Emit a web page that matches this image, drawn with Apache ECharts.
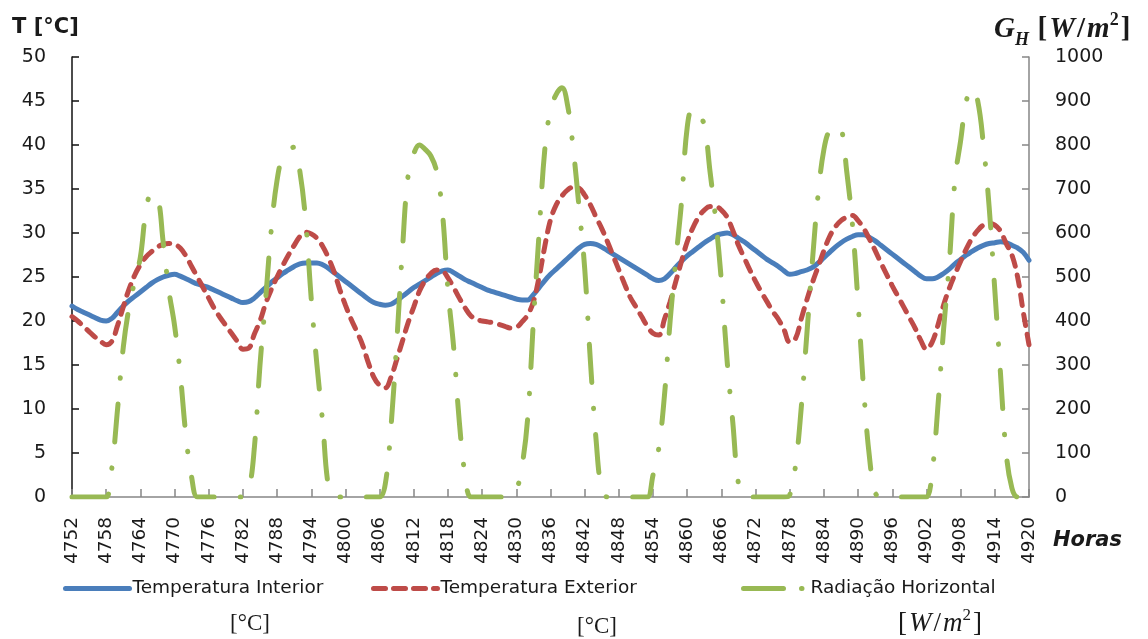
<!DOCTYPE html>
<html>
<head>
<meta charset="utf-8">
<script src="https://cdn.jsdelivr.net/npm/echarts@6/dist/echarts.min.js"></script>
<style>
  html, body { margin: 0; padding: 0; background: #fff; }
  #chart { width: 1148px; height: 639px; }
</style>
</head>
<body>
<div id="chart"></div>
<script>
// Hourly record, hours 4752 .. 4920
const startHour = 4752;
const endHour = 4920;

// Temperatura Interior [°C]
const tInterior = [
  21.7, 21.3, 21.0, 20.7, 20.4, 20.1, 20.0, 20.3, 21.0, 21.7, 22.3, 22.8, 23.3, 23.8, 24.3, 24.7, 25.0, 25.2, 25.3, 25.1, 24.8, 24.5, 24.2, 24.0,
  23.8, 23.5, 23.2, 22.9, 22.6, 22.3, 22.1, 22.2, 22.6, 23.2, 23.8, 24.4, 24.9, 25.4, 25.8, 26.2, 26.5, 26.6, 26.6, 26.6, 26.4, 26.0, 25.5, 25.0,
  24.5, 24.0, 23.5, 23.0, 22.5, 22.1, 21.9, 21.8, 21.9, 22.3, 22.8, 23.3, 23.8, 24.2, 24.6, 25.0, 25.4, 25.7, 25.8, 25.5, 25.1, 24.7, 24.4, 24.1,
  23.8, 23.5, 23.3, 23.1, 22.9, 22.7, 22.5, 22.4, 22.4, 23.0, 23.8, 24.6, 25.3, 25.9, 26.5, 27.1, 27.7, 28.3, 28.7, 28.8, 28.7, 28.4, 28.0, 27.6,
  27.2, 26.8, 26.4, 26.0, 25.6, 25.2, 24.8, 24.6, 24.8, 25.4, 26.1, 26.8, 27.4, 27.9, 28.4, 28.9, 29.3, 29.7, 29.9, 30.0, 29.8, 29.4, 29.0, 28.5,
  28.0, 27.5, 27.0, 26.6, 26.2, 25.7, 25.3, 25.4, 25.6, 25.8, 26.1, 26.6, 27.2, 27.8, 28.4, 28.9, 29.3, 29.6, 29.8, 29.8, 29.5, 29.1, 28.6, 28.1,
  27.6, 27.1, 26.6, 26.1, 25.6, 25.1, 24.8, 24.8, 25.0, 25.4, 25.9, 26.5, 27.0, 27.5, 27.9, 28.3, 28.6, 28.8, 28.9, 29.0, 28.9, 28.6, 28.3, 27.8,
  26.9
];

// Temperatura Exterior [°C]
const tExterior = [
  20.5, 20.0, 19.4, 18.8, 18.2, 17.7, 17.3, 17.7, 19.5, 21.6, 23.6, 25.2, 26.4, 27.3, 27.9, 28.4, 28.7, 28.8, 28.7, 28.3, 27.4, 26.2, 25.0, 23.8,
  22.6, 21.4, 20.4, 19.5, 18.6, 17.7, 16.8, 16.9, 18.5, 20.0, 22.0, 23.6, 25.0, 26.3, 27.5, 28.6, 29.6, 30.1, 29.9, 29.4, 28.5, 27.2, 25.6, 23.6,
  21.8, 20.2, 18.8, 17.3, 15.3, 13.6, 12.7, 12.4, 13.6, 15.6, 17.7, 19.8, 21.6, 23.4, 24.6, 25.4, 25.8, 25.7, 24.9, 23.8, 22.6, 21.5, 20.6, 20.2,
  20.0, 19.9, 19.8, 19.6, 19.4, 19.2, 19.3, 19.9, 20.7, 22.2, 25.0, 28.5, 31.5, 33.2, 34.2, 34.9, 35.2, 35.1, 34.3, 33.2, 31.8, 30.5, 29.0, 27.4,
  25.8, 24.2, 22.7, 21.6, 20.5, 19.4, 18.6, 18.4, 20.2, 22.2, 24.5, 26.8, 29.0, 30.6, 31.8, 32.6, 33.0, 33.0, 32.6, 31.8, 30.3, 28.6, 27.2, 25.8,
  24.5, 23.3, 22.2, 21.1, 20.2, 19.0, 17.6, 18.0, 20.2, 22.4, 24.4, 26.2, 28.0, 29.6, 30.7, 31.4, 31.8, 32.0, 31.4, 30.5, 29.3, 28.0, 26.6, 25.3,
  24.0, 22.8, 21.6, 20.4, 19.2, 17.8, 16.8, 17.6, 19.5, 21.8, 23.7, 25.3, 26.8, 28.2, 29.4, 30.3, 30.9, 31.1, 30.9, 30.2, 28.8, 27.5, 25.0, 21.0,
  17.3
];

// Radiação Horizontal [W/m2]
const gHorizontal = [
  0, 0, 0, 0, 0, 0, 0, 66, 200, 340, 430, 490, 545, 650, 690, 685, 580, 470, 390, 280, 140, 45, 0, 0,
  0, 0, 0, 0, 0, 0, 0, 15, 110, 300, 450, 610, 720, 775, 790, 795, 740, 630, 450, 300, 170, 25, 0, 0,
  0, 0, 0, 0, 0, 0, 0, 30, 160, 350, 560, 730, 780, 800, 790, 775, 740, 650, 470, 340, 170, 50, 0, 0,
  0, 0, 0, 0, 0, 0, 15, 70, 180, 400, 600, 790, 880, 915, 930, 890, 790, 660, 520, 310, 130, 15, 0, 0,
  0, 0, 0, 0, 0, 0, 50, 110, 230, 400, 540, 670, 840, 885, 870, 845, 740, 630, 490, 310, 170, 30, 0, 0,
  0, 0, 0, 0, 0, 0, 5, 70, 200, 370, 540, 690, 790, 835, 845, 840, 740, 620, 440, 240, 90, 10, 0, 0,
  0, 0, 0, 0, 0, 0, 0, 57, 205, 380, 530, 720, 810, 900, 930, 900, 800, 660, 470, 280, 100, 20, 0, 0,
  0
];

const seriesNames = ['Temperatura Interior', 'Temperatura Exterior', 'Radiação Horizontal'];
const colors = ['#4A7EBB', '#BE4B48', '#98B954'];

const hours = [];
for (let h = startHour; h <= endHour; h++) hours.push(h);
const pairs = vals => hours.map((h, i) => [h, vals[i]]);

const SANS = '"DejaVu Sans", sans-serif';
const SERIF = '"Liberation Serif", "DejaVu Serif", serif';
const TXT = '#1a1a1a';
const AXIS_GREY = '#868686';

const lineStyles = [
  { color: colors[0], width: 5, cap: 'round' },
  { color: colors[1], width: 5, type: [11, 9], cap: 'round' },
  { color: colors[2], width: 5, type: [38, 26, 0.5, 26], cap: 'round' }
];

const chart = echarts.init(document.getElementById('chart'), null, { renderer: 'canvas' });

function legendAt(left, idx, iconLine) {
  return {
    show: true,
    left: left,
    top: 574,
    data: [seriesNames[idx]],
    itemWidth: 64,
    itemHeight: 12,
    selectedMode: false,
    itemStyle: { opacity: 0, borderWidth: 0 },
    lineStyle: Object.assign({}, lineStyles[idx], iconLine || {}),
    textStyle: { fontFamily: SANS, fontSize: 18.5, color: TXT, padding: [0, 0, 0, -2] }
  };
}

chart.setOption({
  animation: false,
  backgroundColor: '#ffffff',
  grid: { left: 72, right: 119, top: 57, bottom: 142, containLabel: false },
  legend: [
    legendAt(58, 0),
    legendAt(366, 1, { type: [12, 8] }),
    legendAt(736, 2, { type: [40, 18, 0.5, 40] })
  ],
  xAxis: {
    type: 'value',
    min: startHour,
    max: endHour,
    interval: 6,
    splitLine: { show: false },
    axisLine: { lineStyle: { color: AXIS_GREY, width: 1.5 } },
    axisTick: { inside: true, length: 8, lineStyle: { color: AXIS_GREY, width: 1.5 } },
    axisLabel: {
      rotate: 90,
      margin: 20,
      fontFamily: SANS,
      fontSize: 18.5,
      color: TXT,
      formatter: v => String(v)
    }
  },
  yAxis: [
    {
      type: 'value',
      min: 0, max: 50, interval: 5,
      splitLine: { show: false },
      axisLine: { show: true, lineStyle: { color: '#111', width: 1.5 } },
      axisTick: { show: true, inside: true, length: 7, lineStyle: { color: '#111', width: 1.5 } },
      axisLabel: { margin: 26, fontFamily: SANS, fontSize: 19, color: TXT, formatter: v => String(v) }
    },
    {
      type: 'value',
      min: 0, max: 1000, interval: 100,
      position: 'right',
      splitLine: { show: false },
      axisLine: { show: true, lineStyle: { color: AXIS_GREY, width: 1.5 } },
      axisTick: { show: true, inside: true, length: 7, lineStyle: { color: AXIS_GREY, width: 1.5 } },
      axisLabel: { margin: 26, fontFamily: SANS, fontSize: 19, color: TXT, formatter: v => String(v) }
    }
  ],
  series: [
    {
      name: seriesNames[0], type: 'line', yAxisIndex: 0,
      data: pairs(tInterior), smooth: 0.4, symbol: 'none',
      lineStyle: lineStyles[0], itemStyle: { color: colors[0] }, z: 2
    },
    {
      name: seriesNames[1], type: 'line', yAxisIndex: 0,
      data: pairs(tExterior), smooth: 0.4, symbol: 'none',
      lineStyle: lineStyles[1], itemStyle: { color: colors[1] }, z: 3
    },
    {
      name: seriesNames[2], type: 'line', yAxisIndex: 1,
      data: pairs(gHorizontal), smooth: 0.4, symbol: 'none',
      lineStyle: lineStyles[2], itemStyle: { color: colors[2] }, z: 4
    }
  ],
  graphic: [
    {
      type: 'text', x: 12, y: 28,
      style: { text: 'T [°C]', font: 'bold 21px ' + SANS, fill: TXT, textVerticalAlign: 'middle' }
    },
    {
      type: 'text', x: 994, y: 30,
      style: {
        text: '{g|G}{h|H}  {b|[}{i|W}{b|/}{i|m}{s|2}{b|]}',
        textVerticalAlign: 'middle',
        rich: {
          g: { font: 'bold italic 29px ' + SERIF, fill: TXT, lineHeight: 38, verticalAlign: 'middle' },
          h: { font: 'bold italic 18px ' + SERIF, fill: TXT, lineHeight: 34, verticalAlign: 'bottom' },
          b: { font: 'bold 29px ' + SERIF, fill: TXT, lineHeight: 38, verticalAlign: 'middle', padding: [0, 2, 0, 2] },
          i: { font: 'bold italic 29px ' + SERIF, fill: TXT, lineHeight: 38, verticalAlign: 'middle' },
          s: { font: 'bold 18px ' + SERIF, fill: TXT, lineHeight: 38, verticalAlign: 'top' }
        }
      }
    },
    {
      type: 'text', x: 1053, y: 541,
      style: { text: 'Horas', font: 'italic bold 21px ' + SANS, fill: TXT, textVerticalAlign: 'middle' }
    },
    {
      type: 'text', x: 250, y: 624,
      style: { text: '[°C]', font: '23px ' + SERIF, fill: TXT, textAlign: 'center', textVerticalAlign: 'middle' }
    },
    {
      type: 'text', x: 597, y: 627,
      style: { text: '[°C]', font: '23px ' + SERIF, fill: TXT, textAlign: 'center', textVerticalAlign: 'middle' }
    },
    {
      type: 'text', x: 940, y: 624,
      style: {
        text: '{b|[}{i|W}{b|/}{i|m}{s|2}{b|]}',
        textAlign: 'center',
        textVerticalAlign: 'middle',
        rich: {
          b: { font: '27px ' + SERIF, fill: TXT, lineHeight: 34, verticalAlign: 'middle', padding: [0, 2, 0, 2] },
          i: { font: 'italic 27px ' + SERIF, fill: TXT, lineHeight: 34, verticalAlign: 'middle' },
          s: { font: '17px ' + SERIF, fill: TXT, lineHeight: 34, verticalAlign: 'top' }
        }
      }
    }
  ]
});
</script>
</body>
</html>
